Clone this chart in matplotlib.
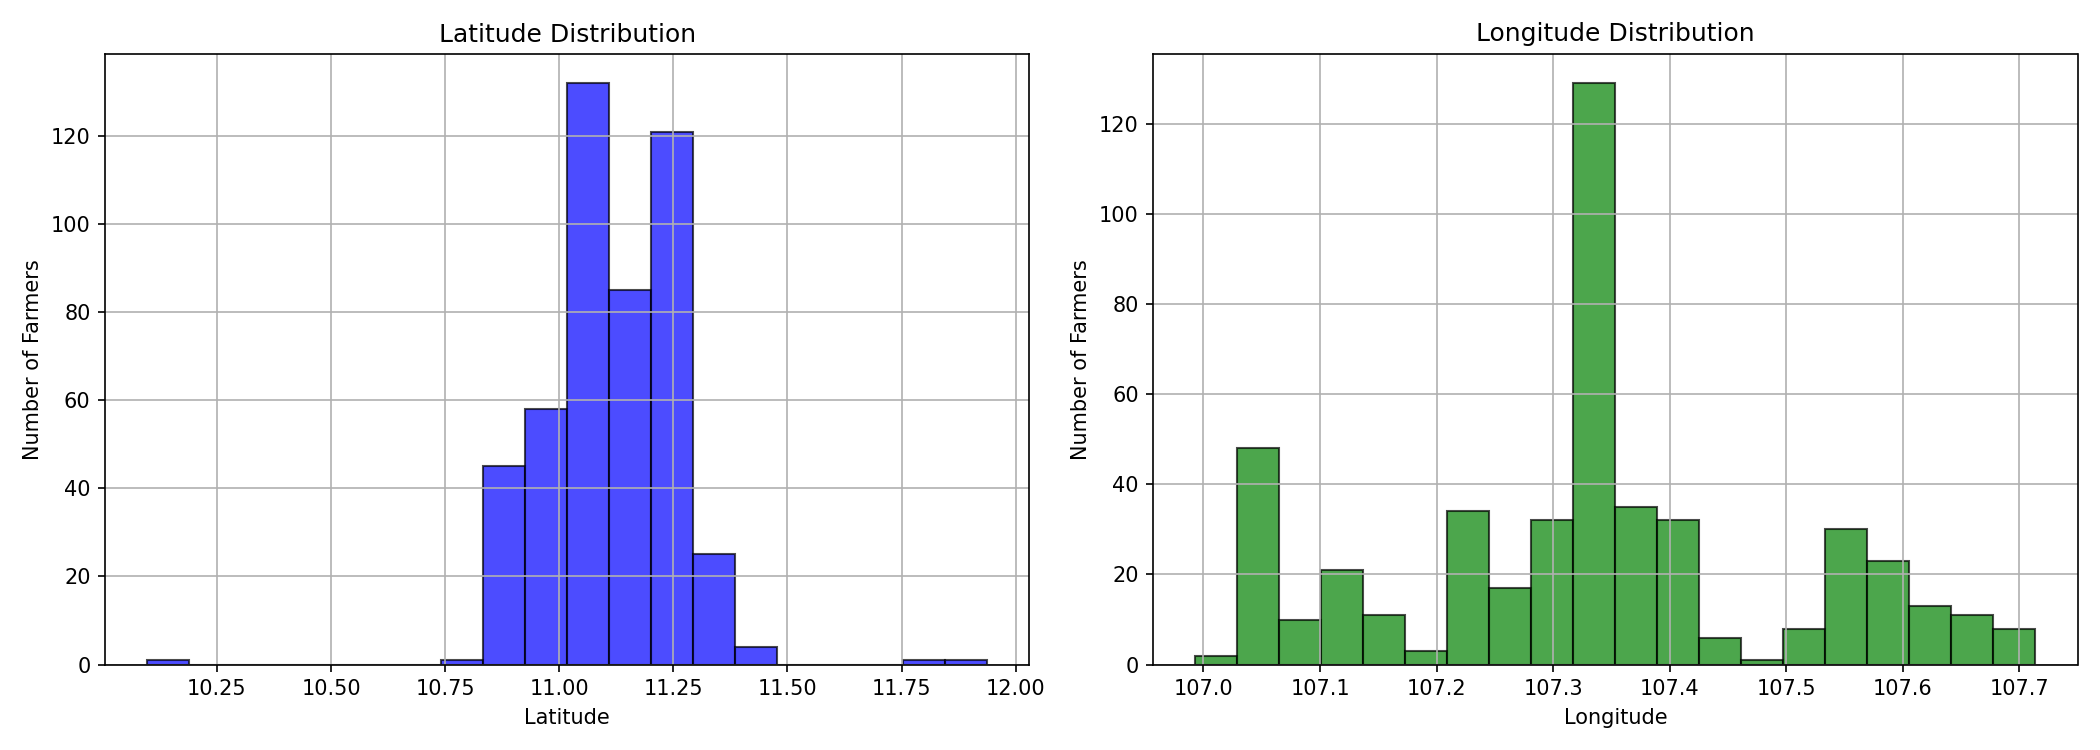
import numpy as np
import matplotlib
matplotlib.use("Agg")
import matplotlib.pyplot as plt

# histogram counts, 20 bins each
lat_range = (10.097, 11.938)
lat_counts = [1, 0, 0, 0, 0, 0, 0, 1, 45, 58, 132, 85, 121, 25, 4, 0, 0, 0, 1, 1]

lon_range = (106.993, 107.714)
lon_counts = [2, 48, 10, 21, 11, 3, 34, 17, 32, 129, 35, 32, 6, 1, 8, 30, 23, 13, 11, 8]

fig, axes = plt.subplots(1, 2, figsize=(14, 5), dpi=150)

def draw_hist(ax, rng, counts, color, title, xlabel):
    edges = np.linspace(rng[0], rng[1], len(counts) + 1)
    ax.hist(edges[:-1], bins=edges, weights=counts, color=color, alpha=0.7, edgecolor="black")
    ax.set_title(title, fontsize=12)
    ax.set_xlabel(xlabel)
    ax.set_ylabel("Number of Farmers")
    ax.grid(True)

draw_hist(axes[0], lat_range, lat_counts, "blue", "Latitude Distribution", "Latitude")
draw_hist(axes[1], lon_range, lon_counts, "green", "Longitude Distribution", "Longitude")

plt.tight_layout()
plt.savefig("out.png")
